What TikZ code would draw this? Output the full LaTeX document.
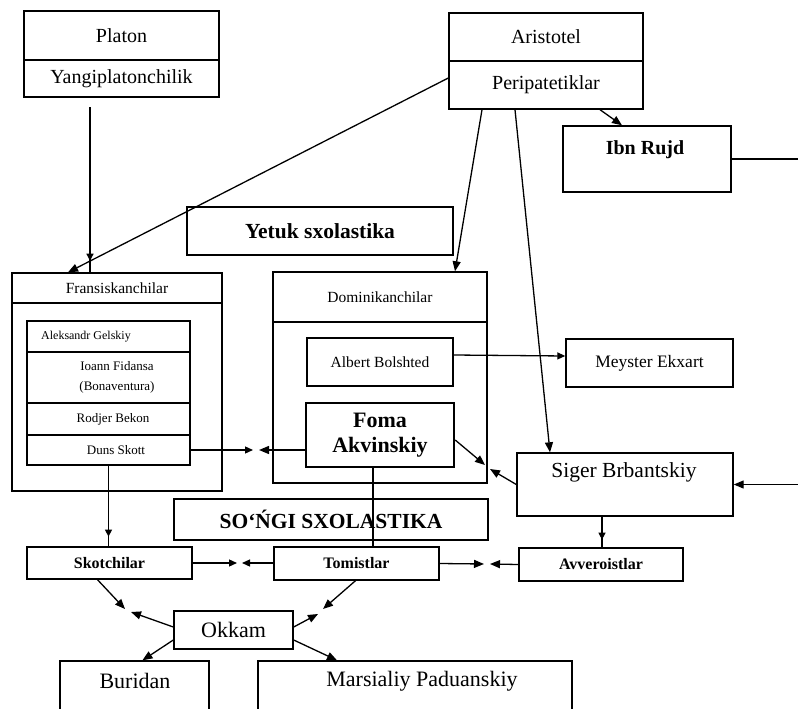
\documentclass[tikz,border=0pt]{standalone}
\usepackage{fontspec}
\setmainfont{Liberation Serif}
\usetikzlibrary{arrows.meta,decorations.markings,calc}
\begin{document}
\begin{tikzpicture}[x=1pt,y=-1pt,line width=1.3pt,
  box/.style={draw,line width=1.4pt,inner sep=0pt,anchor=center},
  wh/.style 2 args={minimum width=#1pt,minimum height=#2pt},
  f13/.style={font=\fontsize{13}{20}\selectfont},
  f12/.style={font=\fontsize{12}{15}\selectfont},
  f15/.style={font=\fontsize{15.5}{18}\selectfont},
  f17/.style={font=\fontsize{17.5}{20}\selectfont},
  f20/.style={font=\fontsize{20}{24}\selectfont},
  f21/.style={font=\fontsize{21.5}{25}\selectfont},
  f22/.style={font=\fontsize{22}{26}\selectfont},
  fb16/.style={font=\fontsize{16}{19}\selectfont\bfseries},
  fb20/.style={font=\fontsize{20}{24}\selectfont\bfseries},
  fb21/.style={font=\fontsize{21.5}{25}\selectfont\bfseries},
  fb22/.style={font=\fontsize{22}{25}\selectfont\bfseries},
  arr/.style={-{Triangle[length=10pt,width=8pt]}},
  sarr/.style={-{Triangle[length=8pt,width=7pt]}},
  tick/.style={postaction={decorate},decoration={markings,mark=at position #1 with {\arrow{Triangle[length=7pt,width=7pt]}}}}
]
\useasboundingbox (0,0) rectangle (798,709);
\clip (0,0) rectangle (798,709);
\fill[white] (0,0) rectangle (798,709);

% top boxes
\node[box,wh={195}{49},f20] (platon) at (121.5,35.5) {Platon};
\node[box,wh={195}{37},f20] (yangi) at (121.5,78.5) {Yangiplatonchilik};
\node[box,wh={194}{48},f20] (arist) at (546,37) {Aristotel};
\node[box,wh={194}{48},f20] (peri) at (546,85) {Peripatetiklar};
\node[box,wh={168}{66}] (ibn) at (647,159) {};
\node[fb20] (ibnt) at (645,150) {Ibn Rujd};
\node[box,wh={266}{48},fb21] (yetuk) at (320,231) {Yetuk sxolastika};

% Fransiskanchilar
\node[box,wh={210}{218}] (fran) at (117,382) {};
\node[box,wh={210}{30},f15] (franh) at (117,288) {Fransiskanchilar};
\node[box,wh={163}{31}] (aleks) at (108.5,336.5) {};
\node[f12] (aleksT) at (86,336.5) {Aleksandr Gelskiy};
\node[box,wh={163}{51}] (ioann) at (108.5,377.5) {};
\node[f13,align=center] (ioannT) at (117,377.5) {Ioann Fidansa\\(Bonaventura)};
\node[box,wh={163}{32}] (rodjer) at (108.5,419) {};
\node[f13] (rodjerT) at (113,419) {Rodjer Bekon};
\node[box,wh={163}{30}] (duns) at (108.5,450) {};
\node[f13] (dunsT) at (116,450) {Duns Skott};

% Dominikanchilar
\node[box,wh={214}{211}] (dom) at (380,377.5) {};
\node[box,wh={214}{50},f15] (domh) at (380,297) {Dominikanchilar};
\node[box,wh={146}{48},f15] (albert) at (380,362) {Albert Bolshted};
\node[box,wh={148}{64},line width=2.4pt,fb22,align=center] (foma) at (380,435) {Foma\\Akvinskiy};

\node[box,wh={167}{48},f17] (meyster) at (649.5,363) {Meyster Ekxart};
\node[box,wh={216}{63}] (siger) at (625,484.5) {};
\node[f21] (sigerT) at (624,472) {Siger Brbantskiy};

\node[box,wh={314}{41},fb21] (songi) at (331,519.5) {SO‘ŃGI SXOLASTIKA};
\node[box,wh={165}{32},fb16] (skot) at (109.5,563) {Skotchilar};
\node[box,wh={165}{33},fb16] (tomist) at (356.5,563.5) {Tomistlar};
\node[box,wh={164}{33},fb16] (avver) at (601,564.5) {Avveroistlar};
\node[box,wh={119}{38},f22] (okkam) at (233.5,630) {Okkam};
\node[box,wh={149}{70}] (buridan) at (134.5,696) {};
\node[f22] (buridanT) at (135,681) {Buridan};
\node[box,wh={314}{70}] (marsi) at (415,696) {};
\node[f22] (marsiT) at (422,681) {Marsialiy Paduanskiy};

% connectors
\coordinate (p1) at (90,107);
\draw[tick=0.93] (p1) -- (p1 |- fran.north);
\draw[arr] ([yshift=7pt]peri.west) -- ([xshift=-49pt]fran.north);
\draw[arr] ([xshift=-64pt]peri.south) -- ([xshift=75pt]dom.north);
\draw[arr] ([xshift=-31pt]peri.south) -- ([xshift=-75pt]siger.north);
\draw[arr] ([xshift=54pt]peri.south) -- ([xshift=-25pt]ibn.north);
\coordinate (ibnout) at (798,159);
\draw (ibn.east) -- (ibnout);
\coordinate (sigin) at (798,484.5);
\draw[arr] (sigin) -- (siger.east);
\draw[sarr] ([yshift=7pt]albert.east) -- ([yshift=7pt]meyster.west);

\coordinate (df1) at (253,450);
\coordinate (df2) at (259,450);
\draw[sarr] (duns.east) -- (df1);
\draw[arr] (foma.west |- duns.east) -- (df2);

\coordinate (fs1) at (485,465);
\coordinate (fs2) at (490,469);
\draw[arr] ([yshift=-5pt]foma.east) -- (fs1);
\draw[arr] (siger.west) -- (fs2);

\draw ([xshift=-7pt]foma.south) -- ([xshift=-7pt]foma.south |- tomist.north);
\draw[tick=0.88] (duns.south) -- (duns.south |- skot.north);
\draw[tick=0.75] ([xshift=-23pt]siger.south) -- ([xshift=-23pt]siger.south |- avver.north);

\coordinate (st1) at (237,563);
\coordinate (st2) at (242,563);
\draw[sarr] (skot.east) -- (st1);
\draw[sarr] (tomist.west |- skot.east) -- (st2);
\coordinate (ta1) at (484,564);
\coordinate (ta2) at (490,564);
\draw[arr] (tomist.east) -- (ta1);
\draw[arr] (avver.west) -- (ta2);

\coordinate (ok1) at (125,609);
\coordinate (ok2) at (131,612);
\draw[arr] ([xshift=-12pt]skot.south) -- (ok1);
\draw[arr] ([yshift=3pt]okkam.west) -- (ok2);
\coordinate (ok3) at (323,609);
\coordinate (ok4) at (318,614);
\draw[arr] ([xshift=-1pt]tomist.south) -- (ok3);
\draw[arr] ([yshift=3pt]okkam.east) -- (ok4);
\draw[arr] ([yshift=-10pt]okkam.west) -- ([xshift=8pt]buridan.north);
\draw[arr] ([yshift=-10pt]okkam.east) -- ([xshift=-78pt]marsi.north);
\end{tikzpicture}
\end{document}
